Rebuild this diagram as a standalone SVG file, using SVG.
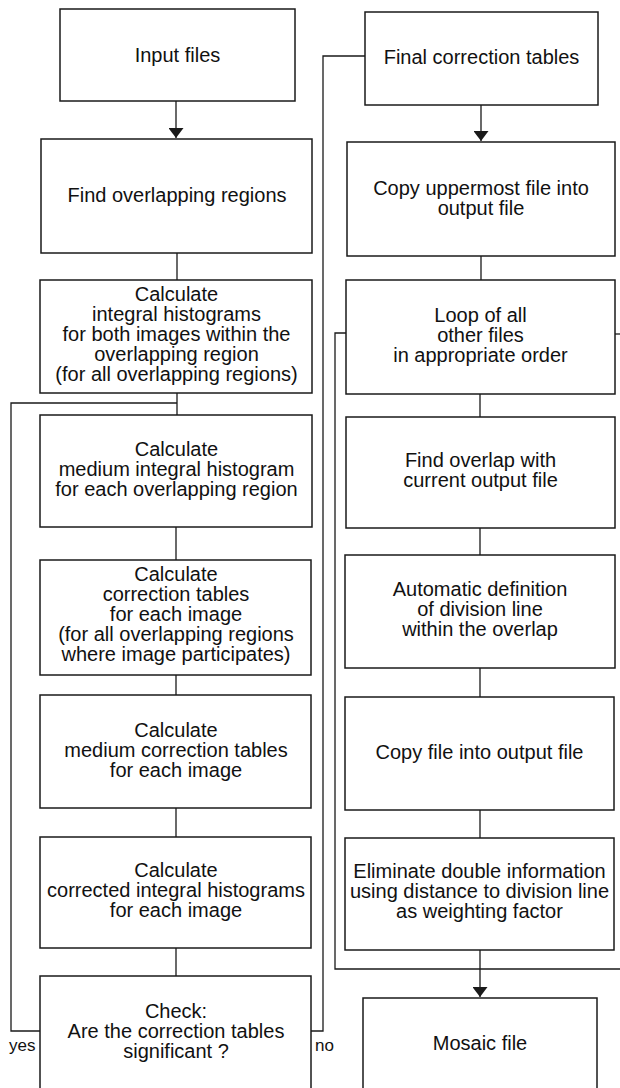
<svg xmlns="http://www.w3.org/2000/svg" width="620" height="1088" viewBox="0 0 620 1088">
<style>
.box{fill:#fff;stroke:#1a1a1a;stroke-width:1.5}
.ln{fill:none;stroke:#1a1a1a;stroke-width:1.3}
text{font-family:"Liberation Sans",Arial,Helvetica,sans-serif;font-size:20px;fill:#111;text-anchor:middle}
.lbl{font-size:17px;text-anchor:start}
</style>
<defs>
<marker id="ah" viewBox="0 0 10 15" refX="10" refY="7.5" markerWidth="10" markerHeight="15" markerUnits="userSpaceOnUse" orient="auto">
<path d="M0,0 L10,7.5 L0,15 Z" fill="#1a1a1a"/>
</marker>
</defs>
<rect width="620" height="1088" fill="#fff"/>
<g id="connectors">
<line class="ln" x1="176" y1="101" x2="176" y2="138" marker-end="url(#ah)"/>
<line class="ln" x1="177" y1="253" x2="177" y2="280"/>
<line class="ln" x1="177" y1="393" x2="177" y2="415"/>
<line class="ln" x1="176" y1="527" x2="176" y2="560"/>
<line class="ln" x1="176" y1="675" x2="176" y2="695"/>
<line class="ln" x1="176" y1="808" x2="176" y2="837"/>
<line class="ln" x1="176" y1="948" x2="176" y2="976"/>
<polyline class="ln" points="40,1031 11,1031 11,403 177,403"/>
<polyline class="ln" points="311,1031 323,1031 323,56 365,56"/>
<line class="ln" x1="481" y1="105" x2="481" y2="141" marker-end="url(#ah)"/>
<line class="ln" x1="481" y1="256" x2="481" y2="280"/>
<line class="ln" x1="480" y1="394" x2="480" y2="417"/>
<line class="ln" x1="480" y1="528" x2="480" y2="555"/>
<line class="ln" x1="480" y1="668" x2="480" y2="697"/>
<line class="ln" x1="480" y1="810" x2="480" y2="838"/>
<line class="ln" x1="480" y1="950" x2="480" y2="997" marker-end="url(#ah)"/>
<polyline class="ln" points="346,333 335,333 335,969 620,969"/>
<line class="ln" x1="615" y1="334" x2="620" y2="334"/>
<text class="lbl" x="9" y="1051">yes</text>
<text class="lbl" x="315" y="1051">no</text>
</g>
<g id="n1"><rect class="box" x="60" y="9" width="235" height="92"/><text x="177.5" y="62">Input files</text></g>
<g id="n2"><rect class="box" x="41" y="139" width="271" height="114"/><text x="177" y="202">Find overlapping regions</text></g>
<g id="n3"><rect class="box" x="40" y="280" width="272" height="113"/>
<text x="176.5" y="301">Calculate</text><text x="176.5" y="321">integral histograms</text><text x="176.5" y="341">for both images within the</text><text x="176.5" y="361">overlapping region</text><text x="176.5" y="381">(for all overlapping regions)</text></g>
<g id="n4"><rect class="box" x="40" y="415" width="272" height="112"/>
<text x="176.5" y="456">Calculate</text><text x="176.5" y="476">medium integral histogram</text><text x="176.5" y="496">for each overlapping region</text></g>
<g id="n5"><rect class="box" x="40" y="560" width="271" height="115"/>
<text x="176" y="581">Calculate</text><text x="176" y="601">correction tables</text><text x="176" y="621">for each image</text><text x="176" y="641">(for all overlapping regions</text><text x="176" y="661">where image participates)</text></g>
<g id="n6"><rect class="box" x="40" y="695" width="271" height="113"/>
<text x="176" y="737">Calculate</text><text x="176" y="757">medium correction tables</text><text x="176" y="777">for each image</text></g>
<g id="n7"><rect class="box" x="40" y="837" width="271" height="111"/>
<text x="176" y="877">Calculate</text><text x="176" y="897">corrected integral histograms</text><text x="176" y="917">for each image</text></g>
<g id="n8"><rect class="box" x="40" y="976" width="271" height="130"/>
<text x="176" y="1018">Check:</text><text x="176" y="1038">Are the correction tables</text><text x="176" y="1058">significant ?</text></g>
<g id="r1"><rect class="box" x="365" y="12" width="233" height="93"/><text x="481.5" y="64">Final correction tables</text></g>
<g id="r2"><rect class="box" x="347" y="142" width="268" height="114"/>
<text x="481" y="195">Copy uppermost file into</text><text x="481" y="215">output file</text></g>
<g id="r3"><rect class="box" x="346" y="280" width="269" height="114"/>
<text x="480.5" y="322">Loop of all</text><text x="480.5" y="342">other files</text><text x="480.5" y="362">in appropriate order</text></g>
<g id="r4"><rect class="box" x="346" y="417" width="269" height="111"/>
<text x="480.5" y="467">Find overlap with</text><text x="480.5" y="487">current output file</text></g>
<g id="r5"><rect class="box" x="345" y="555" width="270" height="113"/>
<text x="480" y="596">Automatic definition</text><text x="480" y="616">of division line</text><text x="480" y="636">within the overlap</text></g>
<g id="r6"><rect class="box" x="345" y="697" width="269" height="113"/><text x="479.5" y="759">Copy file into output file</text></g>
<g id="r7"><rect class="box" x="345" y="838" width="269" height="112"/>
<text x="479.5" y="878">Eliminate double information</text><text x="479.5" y="898">using distance to division line</text><text x="479.5" y="918">as weighting factor</text></g>
<g id="r8"><rect class="box" x="363" y="998" width="234" height="110"/><text x="480" y="1050">Mosaic file</text></g>
</svg>
